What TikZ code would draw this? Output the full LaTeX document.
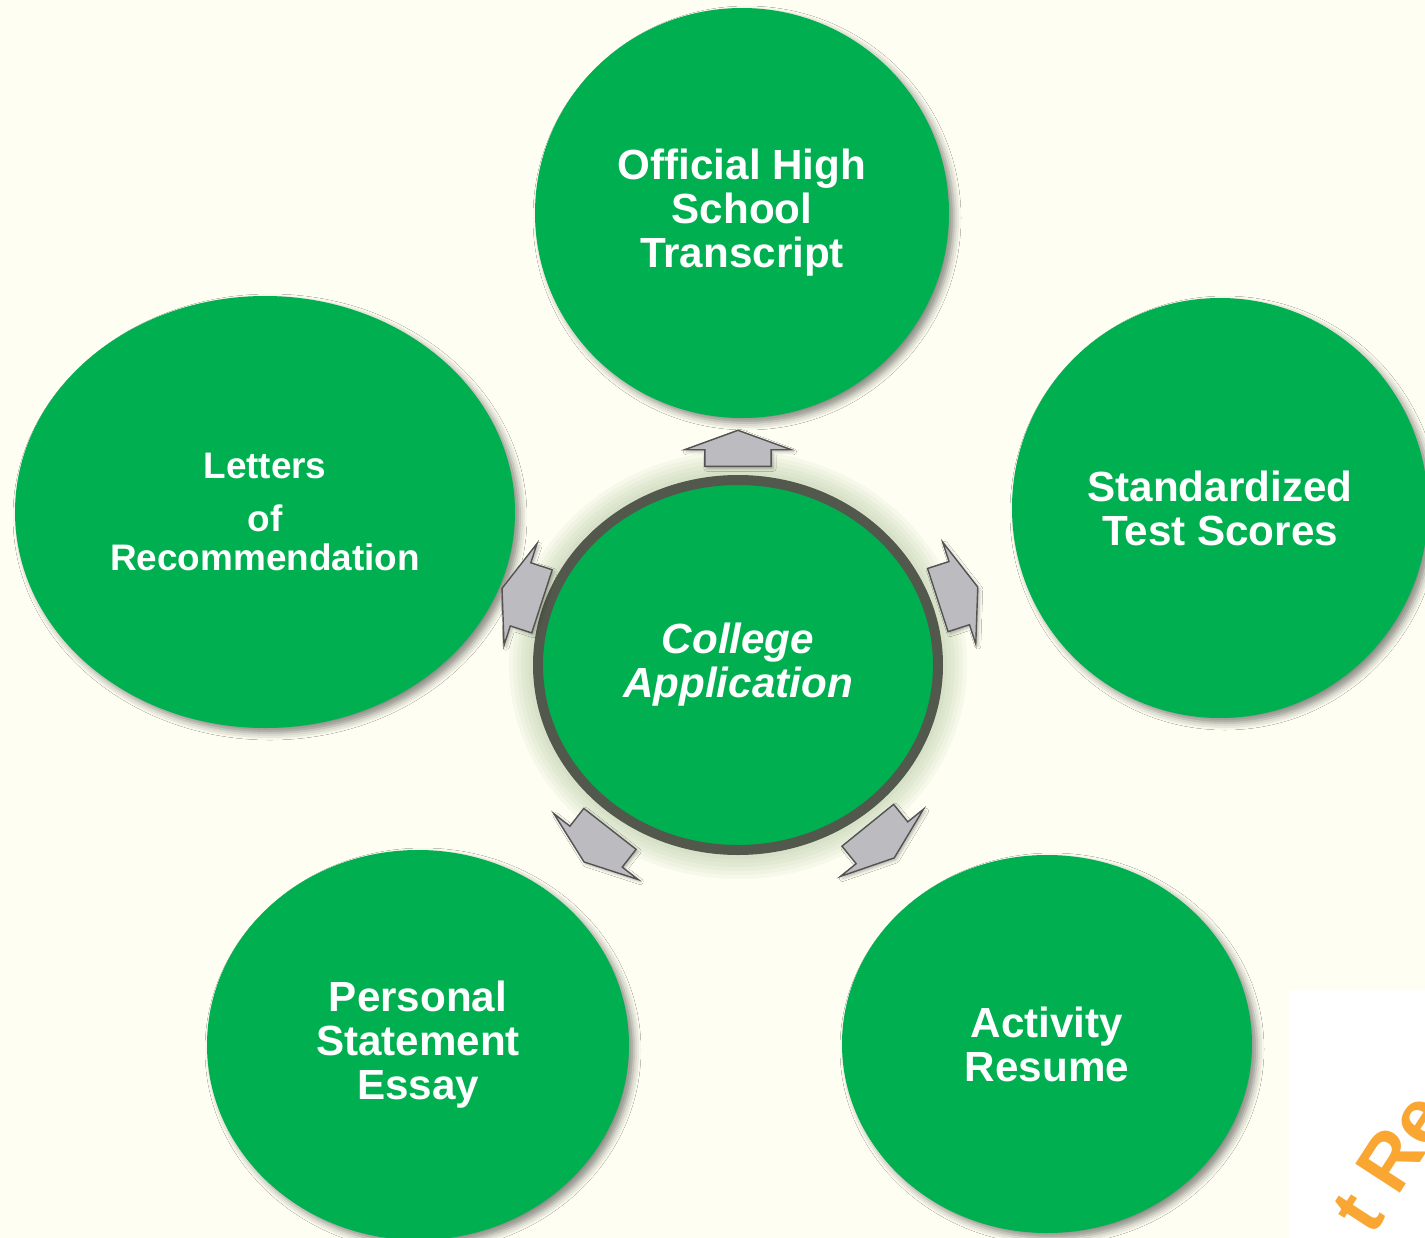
\documentclass[tikz,border=0pt]{standalone}
\usepackage{fontspec}
\setmainfont{Liberation Sans}
\usetikzlibrary{positioning, calc, shapes.geometric, shapes.arrows, shadows.blur}

\definecolor{appgreen}{RGB}{0,176,80}
\definecolor{hubring}{RGB}{82,88,76}
\definecolor{paper}{RGB}{254,254,242}
\definecolor{haze}{RGB}{150,178,128}
\definecolor{arrowgray}{RGB}{188,188,192}
\definecolor{markorange}{RGB}{249,166,51}

\begin{document}
\begin{tikzpicture}[
    bubble/.style={ellipse, fill=appgreen, text=white, align=center, inner sep=0pt,
                   font=\fontsize{12}{12.5}\selectfont\bfseries,
                   blur shadow={shadow xshift=0.05cm, shadow yshift=-0.05cm,
                                shadow blur radius=0.07cm, shadow opacity=45}},
    hub/.style={ellipse, fill=appgreen, draw=hubring, line width=0.1cm, text=white,
                align=center, inner sep=0pt, minimum width=4.0cm, minimum height=3.7cm,
                font=\fontsize{12}{12.5}\selectfont\bfseries\itshape},
    garrow/.style={single arrow, fill=arrowgray, draw=gray!65!black, line width=0.4pt,
                   minimum height=0.42cm, minimum width=1.07cm,
                   inner xsep=0pt, inner ysep=0.32cm,
                   single arrow head extend=0.2cm, single arrow tip angle=140,
                   blur shadow={shadow xshift=0.02cm, shadow yshift=-0.02cm,
                                shadow blur radius=0.03cm, shadow opacity=30}}
]

    % Page
    \fill[paper] (0,0) rectangle (14.25,-12.38);
    \useasboundingbox (0,0) rectangle (14.25,-12.38);

    % Glow round the centre
    \coordinate (hubc) at (7.38,-6.65);
    \foreach \g in {1,...,6}
        \fill[haze, opacity=0.07] (hubc) ellipse ({2.05+0.04*\g} and {1.90+0.04*\g});

    % Centre
    \node[hub] (hub) at (hubc) {College\\Application};

    % Outer bubbles
    \node[bubble, minimum width=4.14cm, minimum height=4.10cm] (transcript) at (7.42,-2.13)
        {Official High\\School\\Transcript};
    \node[bubble, minimum width=4.16cm, minimum height=4.20cm] (scores) at (12.20,-5.08)
        {Standardized\\Test Scores};
    \node[bubble, minimum width=4.10cm, minimum height=3.78cm] (resume) at (10.47,-10.44)
        {Activity\\Resume};
    \node[bubble, minimum width=4.22cm, minimum height=3.90cm] (essay) at (4.18,-10.45)
        {Personal\\Statement\\Essay};
    \node[bubble, minimum width=5.00cm, minimum height=4.32cm,
          font=\fontsize{10.5}{13}\selectfont\bfseries] (letters) at (2.65,-5.12)
        {Letters\\[2pt]of\\[-2pt]Recommendation};

    % Arrows out of the centre
    \node[garrow, minimum height=0.36cm, rotate=90, anchor=tail] (arTop) at ($(hub.90)+(90:0.08)$) {};
    \node[garrow, rotate=18, anchor=tail] (arRight) at ($(hub.18)+(18:0.06)$) {};
    \node[garrow, rotate=-51, anchor=tail] (arLowRight) at ($(hub.-51)+(-51:0.10)$) {};
    \node[garrow, rotate=-128, anchor=tail] (arLowLeft) at ($(hub.-128)+(-128:0.12)$) {};
    \node[garrow, rotate=162, anchor=tail] (arLeft) at ($(hub.162)+(162:0.02)$) {};

    % Corner mark
    \fill[white] (12.90,-9.90) rectangle (14.25,-12.38);
    \begin{scope}
        \clip (12.90,-9.90) rectangle (14.25,-12.38);
        \node[text=markorange, rotate=57, font=\fontsize{22}{22}\selectfont\bfseries]
            (mark) at (13.90,-11.62) {t Re};
    \end{scope}

\end{tikzpicture}
\end{document}
